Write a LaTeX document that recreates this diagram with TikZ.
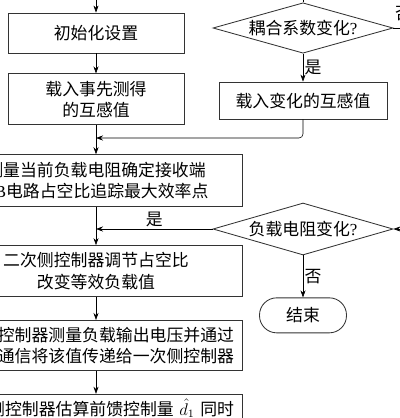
\documentclass[tikz,border=0pt]{standalone}
\usepackage{fontspec}
\setmainfont{Liberation Serif}
\newfontfamily\cjk{Noto Sans CJK SC}
\usetikzlibrary{arrows.meta,positioning,shapes.geometric}

\begin{document}
\begin{tikzpicture} [
    font=\cjk\fontsize{12}{15}\selectfont,
    box/.style={rectangle, draw=black!80, line width=0.6pt, align=center, inner xsep=0.2cm},
    wide/.style={box, minimum width=7.3cm},
    cond/.style={diamond, draw=black!80, line width=0.6pt, aspect=3.6, inner sep=0pt, minimum width=4.5cm, minimum height=1.26cm},
    term/.style={rectangle, rounded corners=0.43cm, draw=black!80, line width=0.6pt, minimum width=2.175cm, minimum height=0.875cm},
    lbl/.style={inner sep=1pt},
    >={Stealth[length=5pt,width=3.6pt]}
    ]
    \useasboundingbox (0,0) rectangle (10,-10.45);
    \clip (0,0) rectangle (10,-10.45);
    %Nodes
    \node[box, minimum width=4.4cm, minimum height=1cm]     (init)  at (2.4,-0.825)         {初始化设置};
    \node[box, minimum width=4.4cm, minimum height=1.275cm] (mload) [below=0.5cm of init]   {载入事先测得\\的互感值};
    \node[wide, minimum height=1.3cm]   (track) [below=0.725cm of mload] {测量当前负载电阻确定接收端\\{\rmfamily BB}电路占空比追踪最大效率点};
    \node[wide, minimum height=1.275cm] (duty)  [below=0.95cm of track]  {二次侧控制器调节占空比\\改变等效负载值};
    \node[wide, minimum height=1.25cm, text width=6.9cm, align=right] (meas) [below=0.575cm of duty] {侧控制器测量负载输出电压并通过\\通信将该值传递给一次侧控制器};
    \node[wide, text width=6.9cm, align=right, text depth=0.6cm] (ffwd) [below=0.575cm of meas] {侧控制器估算前馈控制量 $\hat{d}_1$ 同时};
    \node[cond]                       (kchg)  at (7.575,-0.7)          {耦合系数变化{\rmfamily ?}};
    \node[box, minimum width=4.2cm, minimum height=0.925cm] (nload) [below=0.7cm of kchg] {载入变化的互感值};
    \node[cond, minimum height=1.3cm] (rchg)  at (7.575,-5.725)        {负载电阻变化{\rmfamily ?}};
    \node[term]                       (stop)  [below=1.05cm of rchg]   {结束};
    \coordinate (in1)   at (2.4,0);
    \coordinate (in2)   at (7.575,0);
    \coordinate (out1)  at (10,-0.7);
    \coordinate (in3)   at (10,-5.725);
    \coordinate (join1) at (2.4,-3.45);
    \coordinate (join2) at (2.4,-5.725);
    %Lines
    \draw[->] (in1) -- (init.north);
    \draw[->] (init.south) -- (mload.north);
    \draw[->] (mload.south) -- (track.north);
    \draw[->] (track.south) -- (duty.north);
    \draw[->] (duty.south) -- (meas.north);
    \draw[->] (meas.south) -- (ffwd.north);
    \draw     (kchg.north) -- (in2);
    \draw     (kchg.east) -- (out1);
    \node[lbl, anchor=west] (no1) at ([yshift=0.35cm]kchg.east) {否};
    \draw[->] (kchg.south) -- (nload.north) node[lbl, midway, right] {是};
    \draw[->, rounded corners=0.1cm] (nload.south) |- (join1);
    \draw[->] (in3) -- (rchg.east);
    \draw[->] (rchg.west) -- (join2) node[lbl, midway, above] {是};
    \draw[->] (rchg.south) -- (stop.north) node[lbl, midway, right] {否};
\end{tikzpicture}
\end{document}
